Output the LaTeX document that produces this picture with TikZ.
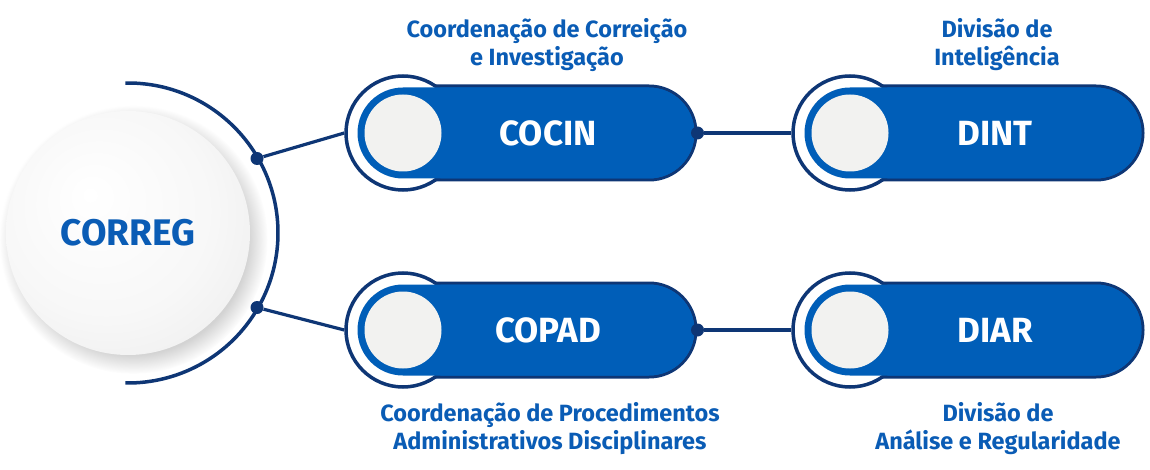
\documentclass[tikz,border=0pt]{standalone}
\usepackage{fontspec}
\setmainfont{Fira Sans}
\usetikzlibrary{calc,shadows}
\definecolor{navy}{HTML}{0E3675}
\definecolor{pillblue}{HTML}{005EB8}
\definecolor{labelblue}{HTML}{0A5CB5}
\definecolor{knobgray}{HTML}{F2F2F0}
\pgfdeclareradialshading{corregshade}{\pgfpoint{-8bp}{8bp}}{color(0bp)=(white); color(22bp)=(white!97!black); color(36bp)=(white!93!black); color(50bp)=(white!82!black)}
\newcommand{\pillw}{340pt}
\newcommand{\pillh}{94pt}

\begin{document}
\begin{tikzpicture}[x=1pt,y=1pt]
        %\draw[help lines] (0,0) grid (1150,-470);
        \tikzset{
            hub/.style = {circle, minimum size=244pt, inner sep=0pt, shade, shading=corregshade,
                circular drop shadow={shadow xshift=5pt, shadow yshift=-6pt, opacity=.35},
                text=labelblue, font=\fontsize{37}{37}\selectfont\bfseries},
            ring/.style = {circle, draw=navy, line width=3.5pt, fill=white, minimum size=114pt, inner sep=0pt},
            pill/.style = {rectangle, rounded corners=47pt, draw=navy, line width=3pt, fill=pillblue,
                minimum width=\pillw, minimum height=\pillh, inner sep=0pt},
            pillcore/.style = {rectangle, rounded corners=45.5pt, fill=pillblue,
                minimum width=\pillw-3pt, minimum height=\pillh-3pt, inner sep=0pt},
            knob/.style = {circle, fill=knobgray, minimum size=77pt, inner sep=0pt},
            pilltext/.style = {text=white, font=\fontsize{35}{35}\selectfont\bfseries},
            caption/.style = {text=labelblue, align=center, font=\fontsize{23.5}{28}\selectfont\bfseries},
            joint/.style = {circle, fill=navy, minimum size=13pt, inner sep=0pt},
            link/.style = {draw=navy, line width=3.2pt}
        }
        \useasboundingbox (0,0) rectangle (1150,-470);

        \node[hub] (correg) at (128,-233) {CORREG};
        \draw[link, line width=3.5pt] ($(correg.center)+(91:150)$) arc (91:-91:150);

        \foreach \unit/\ux/\uy/\utext in {cocin/403/-133/COCIN, dint/850/-133/DINT,
                                          copad/403/-330/COPAD, diar/850/-330/DIAR}{
            \node[pill] (\unit) at (\ux+123,\uy) {};
            \node[ring] (\unit ring) at (\ux,\uy) {};
            \node[pillcore] (\unit core) at (\unit) {};
            \node[knob] (\unit knob) at (\unit ring) {};
            \node[pilltext] (\unit text) at ($(\unit)+(22,0)$) {\utext};
        }

        \node[joint] (cocinpin) at ($(correg.center)+(30:149)$) {};
        \node[joint] (copadpin) at ($(correg.center)+(-30:149)$) {};
        \node[joint] (cocindot) at (cocin.east) {};
        \node[joint] (copaddot) at (copad.east) {};

        \draw[link] (cocinpin) -- (cocinring.west);
        \draw[link] (copadpin) -- (copadring.west);
        \draw[link] (cocindot) -- (dintring.west);
        \draw[link] (copaddot) -- (diarring.west);

        \node[caption] (cocincap) at (547,-45) {Coordenação de Correição\\e Investigação};
        \node[caption] (dintcap) at (997,-45) {Divisão de\\Inteligência};
        \node[caption] (copadcap) at (550,-429) {Coordenação de Procedimentos\\Administrativos Disciplinares};
        \node[caption] (diarcap) at (998,-429) {Divisão de\\Análise e Regularidade};
\end{tikzpicture}
\end{document}
